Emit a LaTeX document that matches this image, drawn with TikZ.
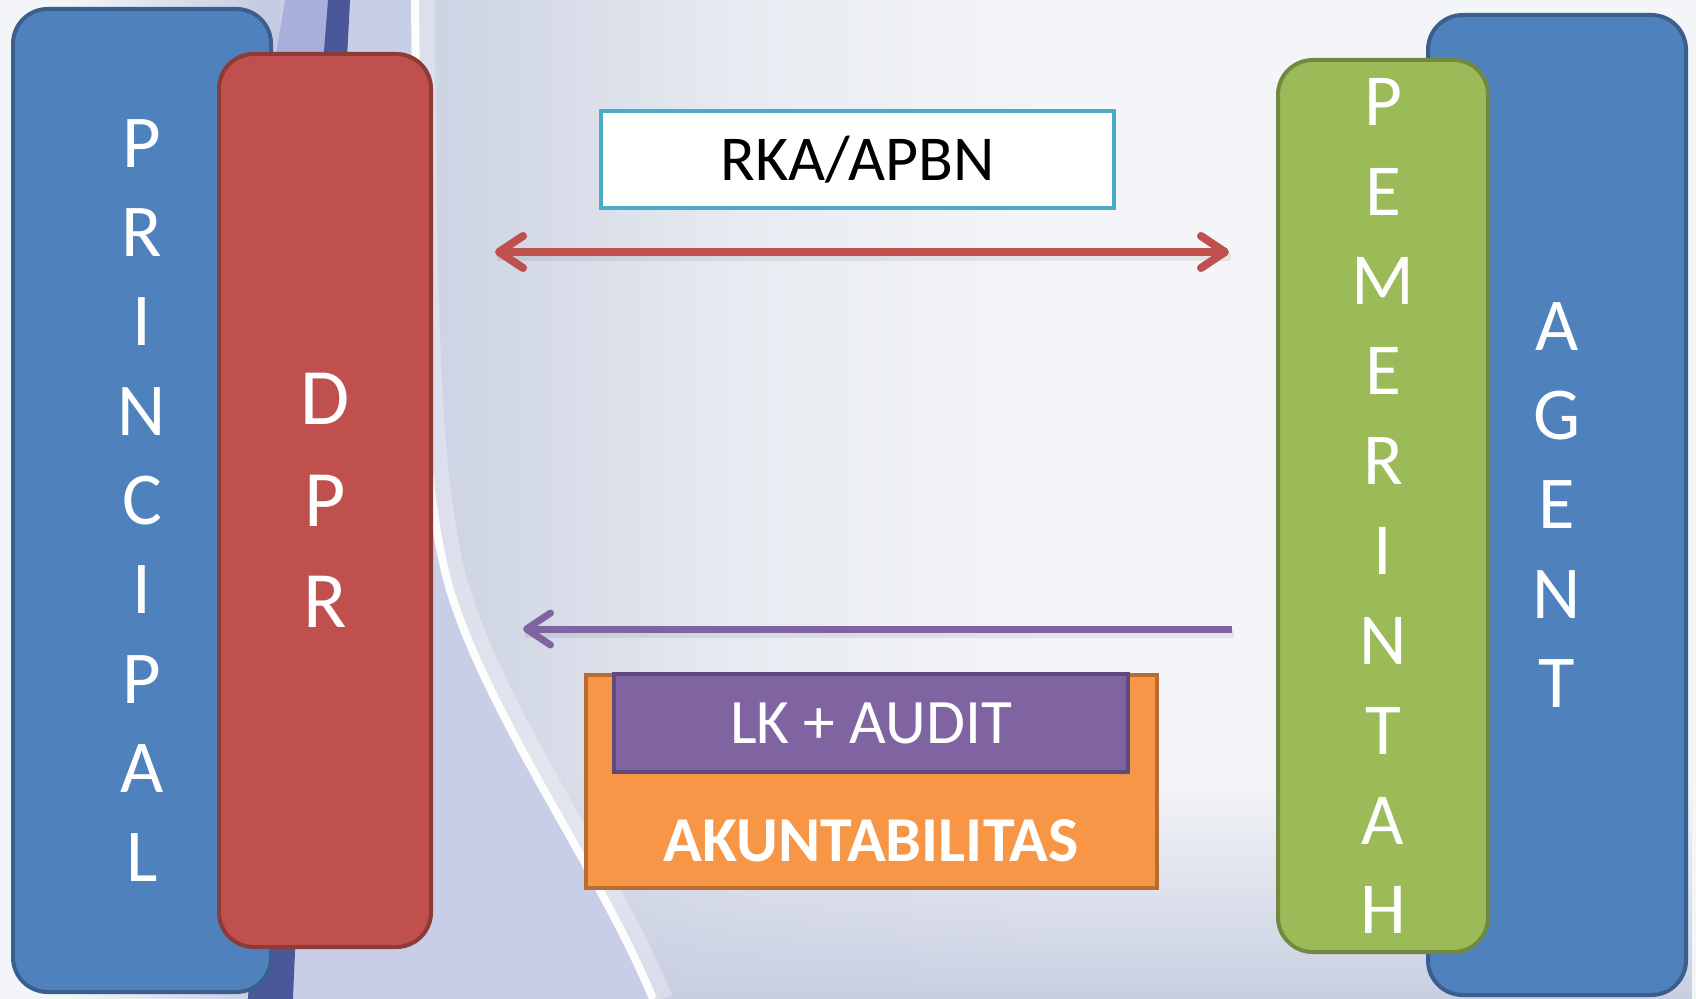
\documentclass[tikz,border=0pt]{standalone}
\usepackage{fontspec}
\setmainfont{Carlito}
\usetikzlibrary{arrows.meta,fadings}
\definecolor{pblue}{HTML}{4F81BD}
\definecolor{pblueD}{HTML}{3A5F8E}
\definecolor{pred}{HTML}{C0504D}
\definecolor{predD}{HTML}{8E3A37}
\definecolor{pgreen}{HTML}{9BBB59}
\definecolor{pgreenD}{HTML}{718A3F}
\definecolor{ppurple}{HTML}{8064A2}
\definecolor{ppurpleD}{HTML}{5E4A7C}
\definecolor{porange}{HTML}{F79646}
\definecolor{porangeD}{HTML}{B86C31}
\definecolor{pcyan}{HTML}{4BACC6}
\definecolor{bgA}{HTML}{C4CADF}
\definecolor{bgB}{HTML}{D3D8E6}
\definecolor{bgC}{HTML}{E8EBF1}
\definecolor{bgD}{HTML}{F4F5F8}
\definecolor{bgL}{HTML}{C8CEE5}
\definecolor{bgBot}{HTML}{C9CFE2}
\definecolor{swoosh}{HTML}{4A5798}
\definecolor{swooshL}{HTML}{9FA8D8}
\pgfdeclarehorizontalshading{bgsh}{100bp}{color(0bp)=(bgD); color(27bp)=(bgD); color(33bp)=(bgA); color(40bp)=(bgB); color(47bp)=(bgC); color(56bp)=(bgD); color(100bp)=(bgD)}
\begin{document}
\begin{tikzpicture}[x=0.75pt,y=-0.75pt,
  tallbox/.style={draw, line width=3pt, rounded corners=26pt, text=white,
    align=center, inner sep=0pt},
  flatbox/.style={draw, line width=3pt, inner sep=0pt, align=center},
  bigletters/.style={font=\fontsize{56pt}{67pt}\selectfont},
  redarrow/.style={draw=pred, line width=6pt,
    {Straight Barb[length=18pt,width=24pt,round]}-{Straight Barb[length=18pt,width=24pt,round]}},
  purplearrow/.style={draw=ppurple, line width=5.25pt,
    -{Straight Barb[length=18pt,width=24pt,round]}},
  arrowshadow/.style={draw=black, opacity=0.07, line width=6pt}
]
\useasboundingbox (0,0) rectangle (1696,999);
% background
\fill[shading=bgsh] (0,0) rectangle (1696,999);
\fill[bgBot, path fading=north] (250,780) rectangle (1696,999);
% region left of the white arc
\fill[bgL] (280,0) -- (415,0) .. controls (418,300) and (418,480) .. (450,590)
  .. controls (490,720) and (600,870) .. (653,999) -- (280,999) -- cycle;
% swoosh at the top left
\fill[swooshL, opacity=0.8] (285,0) -- (335,0) -- (322,60) -- (275,60) -- cycle;
\fill[swoosh] (328,0) -- (350,0) .. controls (335,300) and (305,700) .. (293,999)
  -- (248,999) .. controls (265,700) and (305,300) .. cycle;
% white arc with glow
\draw[white, line width=16pt, opacity=0.3] (424,0) .. controls (427,300) and (427,480) .. (459,590)
  .. controls (499,720) and (609,870) .. (662,999);
\draw[white, line width=6pt, opacity=0.95] (415,0) .. controls (418,300) and (418,480) .. (450,590)
  .. controls (490,720) and (600,870) .. (653,999);
% left side boxes
\node[tallbox, fill=pblue, draw=pblueD, minimum width=193.5pt, minimum height=737.25pt, bigletters]
  (principal) at (142,500.5) {P\\R\\I\\N\\C\\I\\P\\A\\L};
\node[tallbox, fill=pred, draw=predD, minimum width=159pt, minimum height=669.75pt,
  font=\fontsize{60pt}{76pt}\selectfont]
  (dpr) at (325,500.5) {D\\P\\R};
% right side boxes
\node[tallbox, fill=pblue, draw=pblueD, minimum width=193.5pt, minimum height=735pt, bigletters]
  (agent) at (1557,505) {A\\G\\E\\N\\T};
\node[tallbox, fill=pgreen, draw=pgreenD, minimum width=157.5pt, minimum height=669pt,
  font=\fontsize{55pt}{67.4pt}\selectfont]
  (pemerintah) at (1383,506) {P\\E\\M\\E\\R\\I\\N\\T\\A\\H};
% middle
\node[flatbox, fill=white, draw=pcyan, minimum width=384.75pt, minimum height=72.75pt,
  font=\fontsize{48pt}{56pt}\selectfont] (rka) at (857.5,159.5) {RKA/APBN};
\node[flatbox, fill=porange, draw=porangeD, minimum width=428.25pt, minimum height=159.75pt]
  (orange) at (871.5,781.5) {};
\node[flatbox, fill=ppurple, draw=ppurpleD, minimum width=385.5pt, minimum height=73.5pt,
  text=white, font=\fontsize{47.5pt}{56pt}\selectfont] (lk) at (871,723) {LK + AUDIT};
\node[text=white, inner sep=0pt, font=\bfseries\fontsize{48pt}{56pt}\selectfont]
  (akun) at (871,841) {AKUNTABILITAS};
% arrows
\coordinate (rL) at (495,252);
\coordinate (rR) at (1229,252);
\coordinate (pR) at (1232,629);
\coordinate (pL) at (523,629);
\draw[arrowshadow] ([shift={(2,5)}]rL) -- ([shift={(2,5)}]rR);
\draw[arrowshadow] ([shift={(2,5)}]pL) -- ([shift={(2,5)}]pR);
\draw[redarrow] (rL) -- (rR);
\draw[purplearrow] (pR) -- (pL);
\end{tikzpicture}
\end{document}
